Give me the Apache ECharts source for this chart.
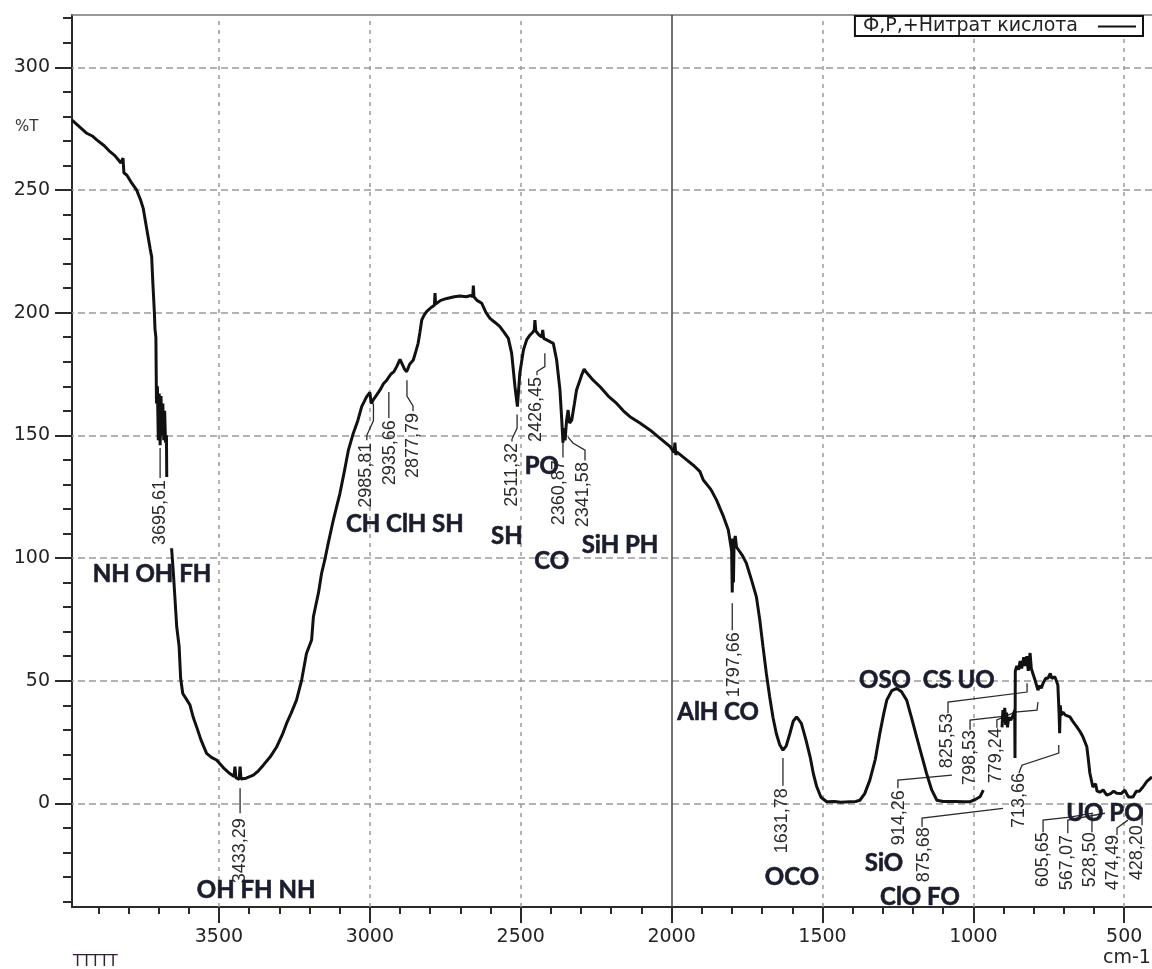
<!DOCTYPE html>
<html><head><meta charset="utf-8">
<script src="https://cdn.jsdelivr.net/npm/echarts@6/dist/echarts.min.js"></script>
<style>html,body{margin:0;padding:0;background:#fff}#c{width:1152px;height:969px}</style>
</head><body><div id="c"></div><script>
const seriesName = 'Ф,Р,+Нитрат кислота';
// wavenumber (cm-1) and %T; '-' marks a gap in the trace
const wavenumber = [3987,3960,3938,3920,3905,3880,3861,3845,3835,3825,3818,3815,3805,3790,3773,3760,3751,3742,3735,3728,3723,3719,3714,3712,3709,3707,3704,3701,3698,3695,3692,3689,3686,3683,3680,3677,3674,3673,3665,3657,3651,3645,3640,3632,3627,3620,3608,3596,3585,3574,3560,3541,3525,3508,3485,3464,3450,3447,3444,3433,3430,3427,3410,3386,3370,3353,3330,3309,3290,3276,3260,3243,3226,3210,3193,3187,3170,3160,3148,3138,3121,3110,3099,3085,3071,3055,3040,3027,3011,3000,2995,2989,2980,2966,2955,2944,2930,2920,2911,2900,2895,2885,2878,2868,2856,2848,2840,2834,2828,2820,2812,2798,2786,2784,2782,2765,2745,2720,2701,2680,2666,2659,2657,2655,2645,2629,2615,2602,2585,2569,2555,2541,2530,2519,2511,2503,2491,2480,2469,2460,2455,2453,2450,2440,2430,2427,2424,2414,2400,2392,2381,2370,2364,2360,2357,2353,2348,2343,2338,2331,2322,2315,2305,2298,2290,2284,2260,2237,2210,2182,2160,2138,2105,2072,2040,2005,1992,1989,1986,1983,1950,1925,1906,1895,1870,1851,1830,1812,1805,1801,1799,1797,1795,1793,1789,1785,1779,1765,1752,1735,1719,1708,1697,1686,1675,1664,1653,1642,1631,1620,1608,1597,1586,1578,1570,1555,1541,1530,1519,1505,1486,1460,1440,1409,1390,1376,1360,1343,1325,1310,1298,1287,1270,1254,1238,1221,1205,1188,1170,1155,1138,1121,1100,1060,1030,1011,995,978,967,940,905,902,899,896,893,890,887,883,876,868,863,862,861,856,850,845,840,833,828,823,818,812,808,803,795,786,780,775,769,760,753,745,740,730,725,720,716,714,712,709,703,695,680,668,657,645,637,624,619,614,604,595,590,581,570,558,545,535,525,510,498,490,485,471,460,450,438,425,408];
const transmittance = [278.5,275.5,273.1,272,270.4,268,265.6,264,262.5,261,263,257,256,253,250,246,242.5,236,231,226,222.8,212,200,193.3,190,163,170,148,167,146,166,150,163,148,160,147,150,133,'-',104,93.7,82,72,64,51,44.8,42.5,40.1,35,31.2,26,20.4,18.8,17.7,14.5,12.2,11,15,10.5,9.8,15,10,10.3,11.5,13.2,15.6,19,23,28,32.6,37,42.1,50.3,61.1,66.6,76.1,86,93.7,100,106,115.5,121,126.4,135,144,150.8,156,161.7,165.7,167.5,163,164.4,166,168.5,171,172.5,175,176,178,181,180.7,177,175.9,179,180.7,184,187.5,192,197,199,200.4,202,203,208,203.5,205,205.8,206.5,206.8,206.5,207,206.5,211,206.5,205,203.8,200,197.7,196,194.3,192,189.5,183.4,169.8,161.7,175.3,184.8,189,190.9,192,193,197,192.5,191,190,193,189.5,188.9,188,187.5,180.7,168.5,156.2,147,153,148,156.2,160.3,155,156.2,163,168.5,172,174.6,177,175.9,172.5,169.8,166,163,160,157.6,155,152.2,149,145.4,143,147,142,143.3,140,137.5,135.2,131.8,128,123.6,117.5,111.4,106,103,86,108,90,106,109,104.5,104.6,101,97.8,91,84.2,75,63.8,53,43.5,35,28.5,24,21.7,23.5,28.5,33.5,35.3,34,32.6,26,19,12,6.8,2.5,0.7,0.8,0.5,0.7,0.8,1.3,4,9.5,18,28.5,36,42.1,46,46.9,45.5,42.1,35,27.1,19,12.2,5.5,1.3,0.8,0.8,0.7,0.7,1.5,2.7,5.4,'-',31,38,33,39,32,37,31,35,34,36,38,18.5,54,56,54.5,58,55,59.6,56,60,54,61.3,55,54.3,50,46.2,48,47,49,51,51,53,51,51.6,50,48.3,37,28.6,40,36,37.2,36,35.3,33,31.2,29,27.2,23.1,18,12.4,6.7,8,5,4.6,5.5,3.4,4,5,4.2,4,5.4,3.5,2.6,2.6,5,5,6.7,9,10.8];

const xMajorTicks = [500,1000,1500,2000,2500,3000,3500];
const xMinorTicks = [600,700,800,900,1100,1200,1300,1400,1600,1700,1800,1900,2100,2200,2300,2400,2600,2700,2800,2900,3100,3200,3300,3400,3600,3700,3800,3900];
const yMajorTicks = [0,50,100,150,200,250,300];
const yMinorTicks = [-40,-30,-20,-10,10,20,30,40,60,70,80,90,110,120,130,140,160,170,180,190,210,220,230,240,260,270,280,290,310,320];
const xGridDashed = [3500,3000,2500,1500,1000,500];
const xGridSolid = [2000];

const peakTexts = ['3695,61','3433,29','2985,81','2935,66','2877,79','2511,32','2426,45','2360,87','2341,58','1797,66','1631,78','914,26','875,68','825,53','798,53','779,24','713,66','605,65','567,07','528,50','474,49','428,20'];
const peakTextAnchors = [[3695,131.8],[3430,-6],[3013,147],[2933,156.2],[2857,159.1],[2529,146.9],[2450,173.8],[2373,139.9],[2294,139.1],[1793,69.8],[1634,6.2],[1247,5.4],[1164,-9.7],[1088,36.8],[1011,29.9],[925,30.7],[849,12.4],[769,-11.7],[690,-12.9],[614,-11.7],[537,-12.9],[458,-8.9]];
const peakLeaders = [
 [[3695,144.8],[3695,132.6]],
 [[3430,6.2],[3430,-4]],
 [[2988,163],[2988,156],[3010,150],[3010,148]],
 [[2937,167.7],[2937,157.1]],
 [[2877,172.5],[2877,166],[2857,162],[2857,159.8]],
 [[2512,158.5],[2512,153],[2529,148.5],[2529,147.5]],
 [[2420,183.5],[2420,178],[2446,176],[2446,174.5]],
 [[2360,149.3],[2360,141]],
 [[2343,149.3],[2327,146.9],[2287,144],[2287,139.8]],
 [[1799,81.6],[1799,70.6]],
 [[1631,18.5],[1631,7.2]],
 [[1250,6.2],[1250,9.5],[1071,11.5]],
 [[1170,-9.5],[1170,-6],[902,-2]],
 [[1084,36.8],[1084,41.3],[822,45.4],[822,49]],
 [[1011,30],[1011,34],[902,35.5]],
 [[922,30.8],[922,34],[862,37.2],[789,38],[786,41.3]],
 [[849,12.4],[839,15.6],[717,20.5],[717,23.8]],
 [[769,-11.7],[769,-6.8],[680,-5.6],[604,-3.9]],
 [[687,-12.1],[687,-6.8],[564,-4]],
 [[607,-11.7],[607,-3.9]],
 [[524,-12.9],[524,-10],[488,-6.8]],
 [[441,-8.9],[441,-1.5]]
];
const bandTexts = ['NH OH FH','OH FH NH','CH ClH SH','SH','PO','CO','SiH PH','AlH CO','OCO','OSO  CS UO','SiO','ClO FO','UO PO'];
const bandTextAnchors = [[3722,93.5],[3377,-35.3],[2884,113.8],[2546,109],[2430,137.5],[2397,98.8],[2171,105.3],[1846,37.2],[1601,-30],[1154,50.3],[1296,-24.3],[1177,-38.2],[564,-3.9]];

const X_MIN = 408, X_MAX = 3987, Y_MIN = -42.2, Y_MAX = 321.3;
const AX = '#2a2a2a';
const LBL = '#242424';

const chart = echarts.init(document.getElementById('c'), null, {renderer:'canvas'});
const axisBase = {type:'value', min:X_MIN, max:X_MAX, inverse:true, splitLine:{show:false}};
const yBase = {type:'value', min:Y_MIN, max:Y_MAX, splitLine:{show:false}};
chart.setOption({
  animation:false,
  backgroundColor:'#fff',
  grid:{left:72, right:0, top:15, bottom:62, containLabel:false, outerBoundsMode:'none'},
  legend:{data:[seriesName], right:9, top:16, align:'right', icon:'rect', itemWidth:38, itemHeight:2,
    borderColor:'#111', borderWidth:2, borderRadius:0, padding:[1,7,0,8], backgroundColor:'#fff',
    selectedMode:false, textStyle:{fontFamily:'DejaVu Sans', fontSize:19, color:'#222', lineHeight:19, padding:[0,15,0,0]}},
  xAxis:[
    Object.assign({}, axisBase, {position:'bottom',
      axisLine:{show:true, onZero:false, lineStyle:{color:AX, width:2}},
      axisTick:{show:true, customValues:xMajorTicks, length:16, lineStyle:{color:AX, width:2}},
      axisLabel:{show:true, customValues:xMajorTicks, margin:21, formatter:v=>String(v), fontFamily:'DejaVu Sans', fontSize:19, color:LBL}}),
    Object.assign({}, axisBase, {position:'bottom',
      axisLine:{show:false, onZero:false},
      axisTick:{show:true, customValues:xMinorTicks, length:7, lineStyle:{color:AX, width:2}},
      axisLabel:{show:false}}),
    Object.assign({}, axisBase, {position:'top',
      axisLine:{show:true, onZero:false, lineStyle:{color:'#777', width:1.5}},
      axisTick:{show:false}, axisLabel:{show:false}})
  ],
  yAxis:[
    Object.assign({}, yBase, {position:'left',
      axisLine:{show:true, onZero:false, lineStyle:{color:AX, width:2}},
      axisTick:{show:true, customValues:yMajorTicks, length:17, lineStyle:{color:AX, width:2}},
      axisLabel:{show:true, customValues:yMajorTicks, margin:22, formatter:v=>String(v), fontFamily:'DejaVu Sans', fontSize:19, color:LBL}}),
    Object.assign({}, yBase, {position:'left',
      axisLine:{show:false, onZero:false},
      axisTick:{show:true, customValues:yMinorTicks, length:9, lineStyle:{color:AX, width:2}},
      axisLabel:{show:false}})
  ],
  graphic:[
    {type:'text', left:15, top:120, style:{text:'%T', fontFamily:'DejaVu Sans', fontSize:15, fill:'#333'}},
    {type:'text', left:73, top:955, style:{text:'TTTTT', fontFamily:'DejaVu Sans', fontSize:15, fill:'#332233'}},
    {type:'text', left:1103, top:949, style:{text:'cm-1', fontFamily:'DejaVu Sans', fontSize:19, fill:LBL}}
  ],
  series:[
    {type:'line', name:'grid', data:[], silent:true, z:1,
      markLine:{silent:true, z:1, symbol:['none','none'], label:{show:false}, animation:false,
        data:[].concat(
          xGridDashed.map(v=>({xAxis:v, lineStyle:{type:[4,5], color:'#9a9a9a', width:1.5}})),
          yMajorTicks.map(v=>({yAxis:v, lineStyle:{type:[7,4], color:'#9a9a9a', width:1.5}})),
          xGridSolid.map(v=>({xAxis:v, lineStyle:{type:'solid', color:'#444', width:1.5}}))
        )}},
    {type:'line', name:seriesName, z:10, showSymbol:false, symbol:'none', connectNulls:false,
      data: wavenumber.map((w,i)=>[w, transmittance[i]]),
      lineStyle:{color:'#111', width:3}, itemStyle:{color:'#111'}},
    {type:'lines', name:'leaders', coordinateSystem:'cartesian2d', polyline:true, silent:true, z:8,
      data: peakLeaders.map(c=>({coords:c})), lineStyle:{color:'#2a2a2a', width:1.3, opacity:1}},
    {type:'scatter', name:'peaks', symbolSize:0, silent:true, z:9, itemStyle:{opacity:1},
      data: peakTextAnchors.map((a,i)=>({value:a, name:peakTexts[i]})),
      label:{show:true, position:'inside', formatter:'{b}', rotate:90, align:'right', verticalAlign:'middle',
        fontFamily:'Liberation Sans', fontSize:18, color:'#2a2a2a'}},
    {type:'scatter', name:'bands', symbolSize:0, silent:true, z:11, itemStyle:{opacity:1},
      data: bandTextAnchors.map((a,i)=>({value:a, name:bandTexts[i]})),
      label:{show:true, position:'inside', formatter:'{b}', align:'center', verticalAlign:'middle',
        fontFamily:'Lato', fontWeight:'bold', fontSize:24, color:'#1b1d2c', textBorderColor:'#1b1d2c', textBorderWidth:0.6}}
  ]
});
</script></body></html>
